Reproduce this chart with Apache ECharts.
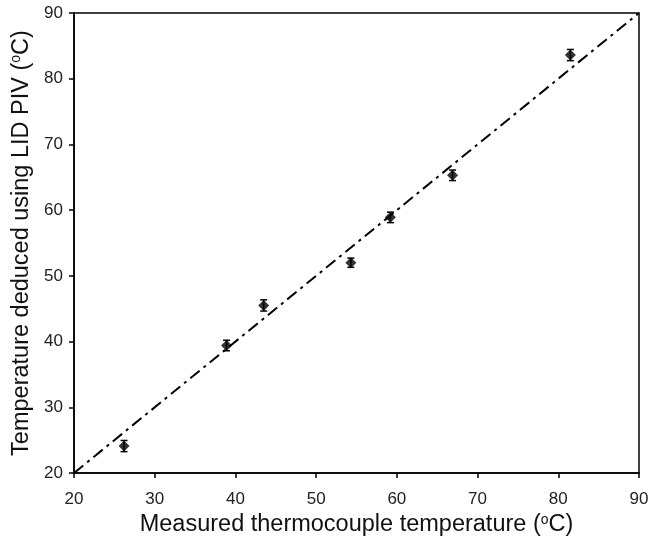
<!DOCTYPE html>
<html>
<head>
<meta charset="utf-8">
<script src="https://cdn.jsdelivr.net/npm/echarts@6/dist/echarts.min.js"></script>
<style>
  html, body { margin: 0; padding: 0; background: #fff; }
  #chart { width: 662px; height: 542px; }
</style>
</head>
<body>
<div id="chart"></div>
<script>
// measured thermocouple temperature vs LID PIV temperature
const measured = [26.2, 38.9, 43.5, 54.3, 59.2, 66.9, 81.5]
const deduced = [24.1, 39.4, 45.5, 52.0, 58.9, 65.3, 83.6]
const errors = [0.85, 0.8, 0.85, 0.7, 0.8, 0.8, 0.85]
const identityLine = [[20, 20], [90, 90]]
const ticks = [20, 30, 40, 50, 60, 70, 80, 90]

const font = 'Liberation Sans, Arial, sans-serif'

const chart = echarts.init(document.getElementById('chart'))

const points = measured.map((x, i) => [x, deduced[i]])
const bars = measured.map((x, i) => [x, deduced[i] - errors[i], deduced[i] + errors[i]])

function axisCommon(min, max) {
  return {
    type: 'value',
    min: min,
    max: max,
    interval: 10,
    splitLine: { show: false },
    axisLine: { show: true, onZero: false, lineStyle: { color: '#000', width: 1.5 } },
    axisTick: { show: true, inside: false, length: 5, lineStyle: { color: '#000', width: 1.5 } },
    axisLabel: { color: '#222', fontSize: 17, fontFamily: font },
    nameLocation: 'middle'
  }
}

const titleRich = {
  sup: { fontSize: 14, fontFamily: font, color: '#111', padding: [0, 0, 10, 0] },
  t: { fontSize: 23.5, fontFamily: font, color: '#111' }
}

chart.setOption({
  animation: false,
  backgroundColor: '#fff',
  grid: {
    left: 74,
    right: 23,
    top: 13,
    bottom: 69,
    containLabel: false,
    outerBoundsMode: 'none',
    show: true,
    borderColor: '#000',
    borderWidth: 1.5
  },
  xAxis: Object.assign(axisCommon(ticks[0], ticks[ticks.length - 1]), {
    name: '{t|Measured thermocouple temperature (}{sup|o}{t|C)}',
    nameGap: 38,
    nameTextStyle: { rich: titleRich },
    axisLabel: { color: '#222', fontSize: 17, fontFamily: font, margin: 18 }
  }),
  yAxis: Object.assign(axisCommon(ticks[0], ticks[ticks.length - 1]), {
    name: '{t|Temperature deduced using LID PIV (}{sup|o}{t|C)}',
    nameGap: 38,
    nameTextStyle: { rich: titleRich },
    axisLabel: { color: '#222', fontSize: 17, fontFamily: font, margin: 11 }
  }),
  series: [
    {
      type: 'line',
      data: identityLine,
      symbol: 'none',
      lineStyle: { color: '#000', width: 2, type: [12, 5, 3, 5] },
      z: 1
    },
    {
      type: 'custom',
      data: bars,
      renderItem: function (params, api) {
        const x = api.value(0)
        const lo = api.coord([x, api.value(1)])
        const hi = api.coord([x, api.value(2)])
        const cap = 3.5
        const style = { stroke: '#000', lineWidth: 1.5 }
        return {
          type: 'group',
          children: [
            { type: 'line', shape: { x1: lo[0], y1: lo[1], x2: hi[0], y2: hi[1] }, style: style },
            { type: 'line', shape: { x1: lo[0] - cap, y1: lo[1], x2: lo[0] + cap, y2: lo[1] }, style: style },
            { type: 'line', shape: { x1: hi[0] - cap, y1: hi[1], x2: hi[0] + cap, y2: hi[1] }, style: style }
          ]
        }
      },
      z: 2
    },
    {
      type: 'scatter',
      data: points,
      symbol: 'diamond',
      symbolSize: 11,
      itemStyle: { color: '#000' },
      z: 3
    }
  ]
})
</script>
</body>
</html>
